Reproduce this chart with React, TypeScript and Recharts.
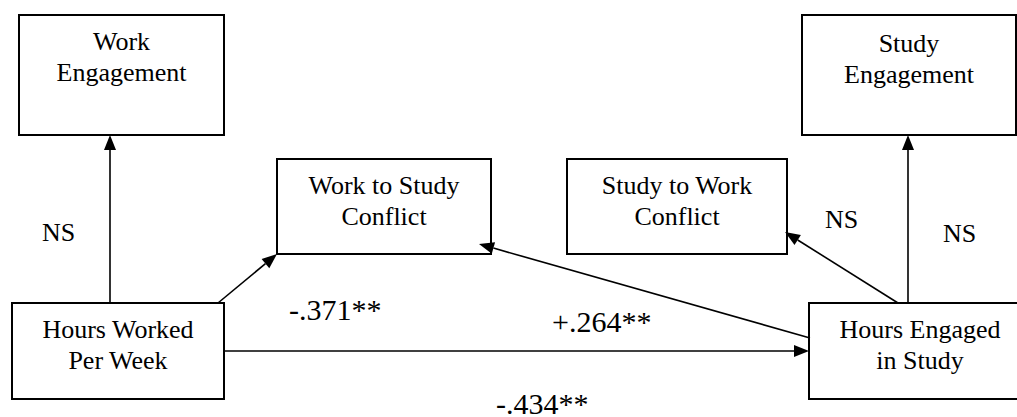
import { ReferenceArea, ReferenceLine, Scatter, ScatterChart, XAxis, YAxis } from "recharts";

// boxes of the path model, in picture pixels (left/right, top/bottom)
const nodeIds = ["workEng", "workToStudy", "studyToWork", "studyEng", "hoursWorked", "hoursStudy"];
const nodeLines = [
  ["Work", "Engagement"],
  ["Work to Study", "Conflict"],
  ["Study to Work", "Conflict"],
  ["Study", "Engagement"],
  ["Hours Worked", "Per Week"],
  ["Hours Engaged", "in Study"]
];
const nodeX1 = [19, 277, 567, 802, 12, 809];
const nodeX2 = [224, 491, 787, 1016, 224, 1031];
const nodeY1 = [15, 159, 159, 15, 303, 303];
const nodeY2 = [135, 254, 254, 135, 399, 399];

// arrows: tail -> head
const arrowFrom = [
  [110, 303],
  [218, 303],
  [224, 351],
  [810, 338],
  [898, 303],
  [908, 303]
];
const arrowTo = [
  [110, 135],
  [277, 254],
  [809, 351],
  [479, 244],
  [785, 232],
  [908, 135]
];

// path coefficients (text start x, baseline y)
const coefText = ["NS", "-.371**", "+.264**", "-.434**", "NS", "NS"];
const coefX = [42, 289, 552, 496, 825, 943];
const coefY = [241, 320, 332, 414, 228, 242];
const coefBig = [false, true, true, true, false, false];

const W = 1017;
const H = 417;
const SERIF = "Liberation Serif";

const coefData = coefText.map((text, i) => ({ x: coefX[i], y: coefY[i], text, big: coefBig[i] }));

function ArrowShape(props: any) {
  const { x1, y1, x2, y2 } = props;
  const ang = Math.atan2(y2 - y1, x2 - x1);
  const len = 15;
  const half = 6;
  const bx = x2 - len * Math.cos(ang);
  const by = y2 - len * Math.sin(ang);
  const px = -Math.sin(ang) * half;
  const py = Math.cos(ang) * half;
  return (
    <g>
      <line x1={x1} y1={y1} x2={bx} y2={by} stroke="#000" strokeWidth={1.6} />
      <polygon points={`${x2},${y2} ${bx + px},${by + py} ${bx - px},${by - py}`} fill="#000" />
    </g>
  );
}

function boxLabel(lines: string[], first: number) {
  return (props: any) => {
    const vb = props.viewBox || {};
    const cx = vb.x + vb.width / 2;
    return (
      <g>
        {lines.map((t, k) => (
          <text key={k} x={cx} y={vb.y + first + k * 31} textAnchor="middle" fontFamily={SERIF} fontSize={26} fill="#000">
            {t}
          </text>
        ))}
      </g>
    );
  };
}

function CoefShape(props: any) {
  const { cx, cy, payload } = props;
  return (
    <text x={cx} y={cy} textAnchor="start" fontFamily={SERIF} fontSize={payload.big ? 30 : 26} fill="#000">
      {payload.text}
    </text>
  );
}

export default function App() {
  return (
    <div style={{ position: "absolute", left: 0, top: 0, width: W, height: H, background: "#fff" }}>
      <ScatterChart width={W} height={H} margin={{ top: 0, right: 0, bottom: 0, left: 0 }}>
        <XAxis type="number" dataKey="x" domain={[0, W]} allowDataOverflow hide />
        <YAxis type="number" dataKey="y" domain={[0, H]} allowDataOverflow reversed hide />
        {nodeIds.map((id, i) => (
          <ReferenceArea
            key={id}
            x1={nodeX1[i]}
            x2={nodeX2[i]}
            y1={nodeY1[i]}
            y2={nodeY2[i]}
            fill="#fff"
            fillOpacity={1}
            stroke="#000"
            strokeWidth={2}
            ifOverflow="visible"
            label={boxLabel(nodeLines[i], id === "studyEng" ? 37 : 35)}
          />
        ))}
        {arrowFrom.map((p, i) => (
          <ReferenceLine
            key={i}
            segment={[
              { x: p[0], y: p[1] },
              { x: arrowTo[i][0], y: arrowTo[i][1] }
            ]}
            ifOverflow="visible"
            shape={ArrowShape}
          />
        ))}
        <Scatter data={coefData} shape={CoefShape} isAnimationActive={false} />
      </ScatterChart>
    </div>
  );
}
